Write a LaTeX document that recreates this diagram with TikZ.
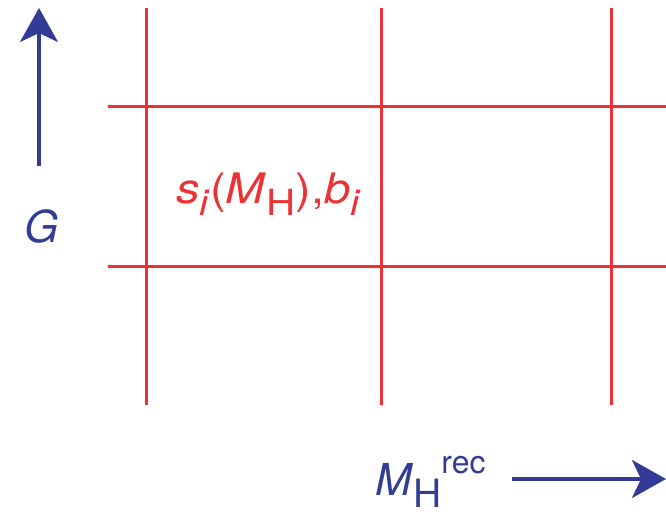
\documentclass[tikz,border=0pt]{standalone}
\usepackage{graphicx}
\usepackage{fontspec}
\setmainfont{TeX Gyre Heros}
\usetikzlibrary{arrows.meta}
\definecolor{gridred}{RGB}{236,50,52}
\definecolor{axisblue}{RGB}{50,60,150}
\newcommand\shiftedtext[3]{\raisebox{#2}{\fontsize{#1}{#1}\selectfont #3}}
\tikzset{
  gridline/.style={draw=gridred, line width=3pt},
  axisarrow/.style={draw=axisblue, line width=3.2pt, -{Stealth[length=34pt,width=38pt,inset=9pt]}},
  bluelabel/.style={text=axisblue, font=\fontsize{44}{48}\selectfont, inner sep=0pt},
  redlabel/.style={text=gridred, font=\fontsize{42}{46}\selectfont, inner sep=0pt}
}
\begin{document}
\begin{tikzpicture}[x=1pt,y=-1pt]
\useasboundingbox (0,0) rectangle (666,511);
% grid
\foreach \x in {146,381,611} \draw[gridline] (\x,8) -- (\x,405);
\foreach \y in {106,266} \draw[gridline] (108,\y) -- (666,\y);
% axes
\coordinate (g0) at (39,166);
\coordinate (g1) at (39,8);
\draw[axisarrow] (g0) -- (g1);
\node[bluelabel, anchor=base] (G) at (42,242) {\textit{G}};
\coordinate (m0) at (512,479);
\coordinate (m1) at (666,479);
\draw[axisarrow] (m0) -- (m1);
\node[bluelabel, anchor=base west] (MH) at (375,495) {\textit{M}\shiftedtext{39}{-12pt}{H}\shiftedtext{32}{22pt}{rec}};
% cell label
\node[redlabel, anchor=base west] (s) at (176,203) {\scalebox{1.12}[1]{\textit{s}\shiftedtext{36}{-12pt}{\textit{i}}(\textit{M}\shiftedtext{36}{-12pt}{H}),\textit{b}\shiftedtext{36}{-12pt}{\textit{i}}}};
\end{tikzpicture}
\end{document}
